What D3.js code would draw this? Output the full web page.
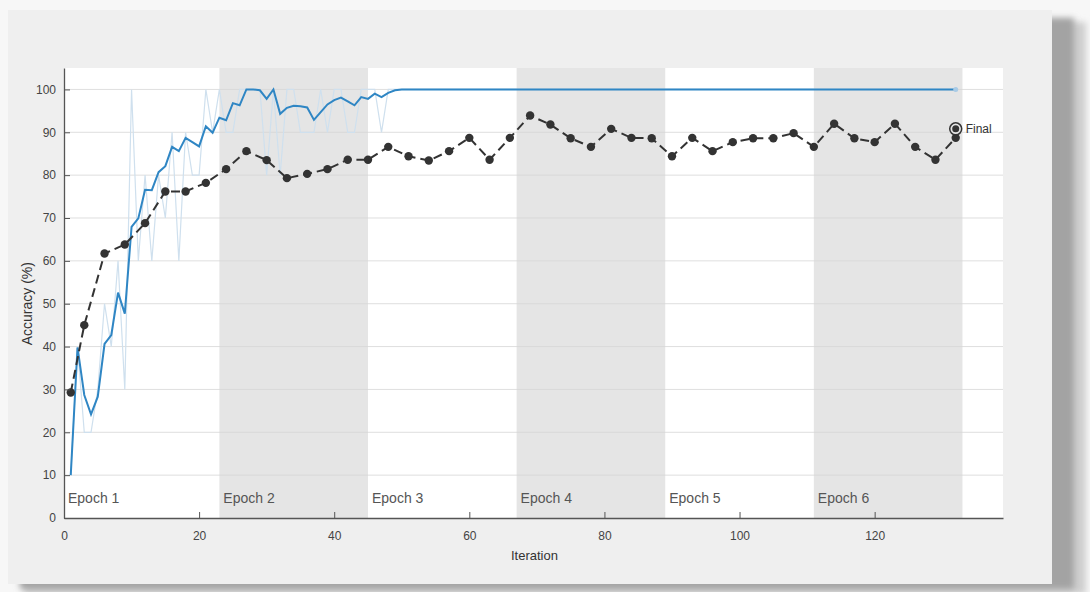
<!DOCTYPE html>
<html>
<head>
<meta charset="utf-8">
<script src="https://cdn.jsdelivr.net/npm/d3@7"></script>
<style>
  body { margin: 0; background: #f7f7f7; }
  svg { display: block; font-family: "Liberation Sans", Arial, sans-serif; }
</style>
</head>
<body>
<div id="chart"></div>
<script>
// training accuracy per iteration (raw mini-batch and smoothed), iterations 1..132
const trainRaw = [10, 40, 20, 20, 30, 50, 40, 60, 30, 100, 60, 80, 60, 80, 70, 90, 60, 90, 80, 80,
  100, 90, 100, 90, 90, 100, 100, 100, 100, 80, 100, 80, 100, 100, 90, 90, 90, 100, 90, 100,
  100, 90, 90, 100, 100, 100, 90, 100, 100, 100, 100, 100, 100, 100, 100, 100, 100, 100, 100, 100,
  100, 100, 100, 100, 100, 100, 100, 100, 100, 100, 100, 100, 100, 100, 100, 100, 100, 100, 100, 100,
  100, 100, 100, 100, 100, 100, 100, 100, 100, 100, 100, 100, 100, 100, 100, 100, 100, 100, 100, 100,
  100, 100, 100, 100, 100, 100, 100, 100, 100, 100, 100, 100, 100, 100, 100, 100, 100, 100, 100, 100,
  100, 100, 100, 100, 100, 100, 100, 100, 100, 100, 100, 100];
const trainSmooth = [10, 39.8, 28.7, 24.2, 28.3, 40.6, 42.7, 52.6, 47.7, 67.9, 69.9, 76.6, 76.5, 80.7, 82.1, 86.6, 85.6, 88.7, 87.7, 86.7,
  91.4, 89.9, 93.4, 92.8, 96.8, 96.3, 100, 100, 99.8, 97.8, 100, 94.3, 95.7, 96.2, 96.1, 95.8, 92.9, 94.7, 96.5, 97.5,
  98.1, 97.2, 96.3, 98.2, 97.8, 99.0, 98.2, 99.2, 99.8, 100, 100, 100, 100, 100, 100, 100, 100, 100, 100, 100,
  100, 100, 100, 100, 100, 100, 100, 100, 100, 100, 100, 100, 100, 100, 100, 100, 100, 100, 100, 100,
  100, 100, 100, 100, 100, 100, 100, 100, 100, 100, 100, 100, 100, 100, 100, 100, 100, 100, 100, 100,
  100, 100, 100, 100, 100, 100, 100, 100, 100, 100, 100, 100, 100, 100, 100, 100, 100, 100, 100, 100,
  100, 100, 100, 100, 100, 100, 100, 100, 100, 100, 100, 100];

// validation accuracy
const valIter = [1, 3, 6, 9, 12, 15, 18, 21, 24, 27, 30, 33, 36, 39, 42, 45, 48, 51, 54, 57,
  60, 63, 66, 69, 72, 75, 78, 81, 84, 87, 90, 93, 96, 99, 102, 105, 108, 111, 114, 117,
  120, 123, 126, 129, 132];
const valAcc = [29.3, 45, 61.7, 63.8, 68.8, 76.2, 76.2, 78.2, 81.4, 85.6, 83.5, 79.3, 80.3, 81.4, 83.6, 83.6, 86.6, 84.4, 83.4, 85.6,
  88.7, 83.6, 88.7, 93.9, 91.8, 88.6, 86.6, 90.8, 88.7, 88.6, 84.4, 88.7, 85.6, 87.7, 88.6, 88.6, 89.8, 86.6, 92.0, 88.6,
  87.7, 92.0, 86.6, 83.6, 88.7];
const finalIter = 132;
const finalAcc = 90.8;

const epochNames = ["Epoch 1", "Epoch 2", "Epoch 3", "Epoch 4", "Epoch 5", "Epoch 6"];
const epochStart = [0, 23, 45, 67, 89, 111];
const epochEnd = [23, 45, 67, 89, 111, 133];
const xTicks = [0, 20, 40, 60, 80, 100, 120];
const yTicks = [0, 10, 20, 30, 40, 50, 60, 70, 80, 90, 100];

const W = 1090, H = 592;
const margin = { top: 68, right: 87, bottom: 74, left: 64 };

const svg = d3.select("#chart").append("svg")
  .attr("width", W).attr("height", H);

// screenshot-like panel with shadow
const defs = svg.append("defs");
defs.append("filter").attr("id", "blur")
  .append("feGaussianBlur").attr("stdDeviation", 3);
svg.append("rect").attr("x", 24).attr("y", 22).attr("width", 1062).attr("height", 572)
  .attr("fill", "#cfcfcf").attr("filter", "url(#blur)");
svg.append("rect").attr("x", 20).attr("y", 18).attr("width", 1054).attr("height", 571)
  .attr("fill", "#a3a3a3").attr("filter", "url(#blur)");
svg.append("rect").attr("x", 8).attr("y", 10).attr("width", 1044).attr("height", 574)
  .attr("fill", "#efefef");

const x = d3.scaleLinear().domain([0, 139]).range([margin.left, W - margin.right]);
const y = d3.scaleLinear().domain([0, 105]).range([H - margin.bottom, margin.top]);

const plot = svg.append("g");

// plot background
plot.append("rect")
  .attr("x", x(0)).attr("y", y(105))
  .attr("width", x(139) - x(0)).attr("height", y(0) - y(105))
  .attr("fill", "#ffffff");

// epoch bands
const epochs = epochNames.map((name, i) => ({ name, s: epochStart[i], e: epochEnd[i], i }));
plot.selectAll("rect.band")
  .data(epochs.filter(d => d.i % 2 === 1))
  .join("rect")
  .attr("class", "band")
  .attr("x", d => x(d.s)).attr("y", y(105))
  .attr("width", d => x(d.e) - x(d.s)).attr("height", y(0) - y(105))
  .attr("fill", "#e5e5e5");

// horizontal grid
plot.selectAll("line.grid")
  .data(yTicks.filter(t => t > 0))
  .join("line")
  .attr("class", "grid")
  .attr("x1", x(0)).attr("x2", x(139))
  .attr("y1", d => y(d)).attr("y2", d => y(d))
  .attr("stroke", "#d6d6d6").attr("stroke-opacity", 0.8).attr("stroke-width", 1);

// epoch labels
plot.selectAll("text.epoch")
  .data(epochs)
  .join("text")
  .attr("class", "epoch")
  .attr("x", d => x(d.s) + 4)
  .attr("y", y(0) - 15)
  .attr("font-size", 14)
  .attr("fill", "#555")
  .text(d => d.name);

// raw training accuracy
const iters = trainRaw.map((v, i) => i + 1);
const line = d3.line().x(d => x(d[0])).y(d => y(d[1]));
plot.append("path")
  .datum(iters.map((it, i) => [it, trainRaw[i]]))
  .attr("d", line)
  .attr("fill", "none")
  .attr("stroke", "#cfe0ee")
  .attr("stroke-width", 1.2);

// smoothed training accuracy
plot.append("path")
  .datum(iters.map((it, i) => [it, trainSmooth[i]]))
  .attr("d", line)
  .attr("fill", "none")
  .attr("stroke", "#2f86c4")
  .attr("stroke-width", 2);
plot.append("circle")
  .attr("cx", x(iters[iters.length - 1])).attr("cy", y(trainSmooth[trainSmooth.length - 1]))
  .attr("r", 2.5).attr("fill", "#a9cbe6");

// validation
const valData = valIter.map((it, i) => [it, valAcc[i]]);
plot.append("path")
  .datum(valData)
  .attr("d", line)
  .attr("fill", "none")
  .attr("stroke", "#333")
  .attr("stroke-width", 2)
  .attr("stroke-dasharray", "9,5");
plot.selectAll("circle.val")
  .data(valData)
  .join("circle")
  .attr("class", "val")
  .attr("cx", d => x(d[0])).attr("cy", d => y(d[1]))
  .attr("r", 4.2)
  .attr("fill", "#333");

// final marker
plot.append("circle")
  .attr("cx", x(finalIter)).attr("cy", y(finalAcc))
  .attr("r", 6).attr("fill", "#e6e6e6").attr("stroke", "#333").attr("stroke-width", 1.5);
plot.append("circle")
  .attr("cx", x(finalIter)).attr("cy", y(finalAcc))
  .attr("r", 3.5).attr("fill", "#333");
plot.append("text")
  .attr("x", x(finalIter) + 10).attr("y", y(finalAcc) + 4)
  .attr("font-size", 12).attr("fill", "#333")
  .text("Final");

// axes
const xAxis = svg.append("g")
  .attr("transform", `translate(0,${y(0)})`)
  .call(d3.axisBottom(x).tickValues(xTicks).tickSizeInner(-6).tickSizeOuter(0).tickPadding(13));
const yAxis = svg.append("g")
  .attr("transform", `translate(${x(0)},0)`)
  .call(d3.axisLeft(y).tickValues(yTicks).tickSizeInner(-6).tickSizeOuter(0).tickPadding(8));
[xAxis, yAxis].forEach(g => {
  g.select(".domain").attr("stroke", "#555").attr("stroke-width", 1.3);
  g.selectAll(".tick line").attr("stroke", "#555");
  g.selectAll(".tick text").attr("fill", "#444").attr("font-size", 12)
    .attr("font-family", "'Liberation Sans', Arial, sans-serif");
});

// axis titles
svg.append("text")
  .attr("x", (x(0) + x(139)) / 2 + 1).attr("y", 560)
  .attr("text-anchor", "middle")
  .attr("font-size", 13).attr("fill", "#333")
  .text("Iteration");
svg.append("text")
  .attr("transform", `translate(32,${y(50)}) rotate(-90)`)
  .attr("text-anchor", "middle")
  .attr("font-size", 14).attr("fill", "#333")
  .text("Accuracy (%)");
</script>
</body>
</html>
